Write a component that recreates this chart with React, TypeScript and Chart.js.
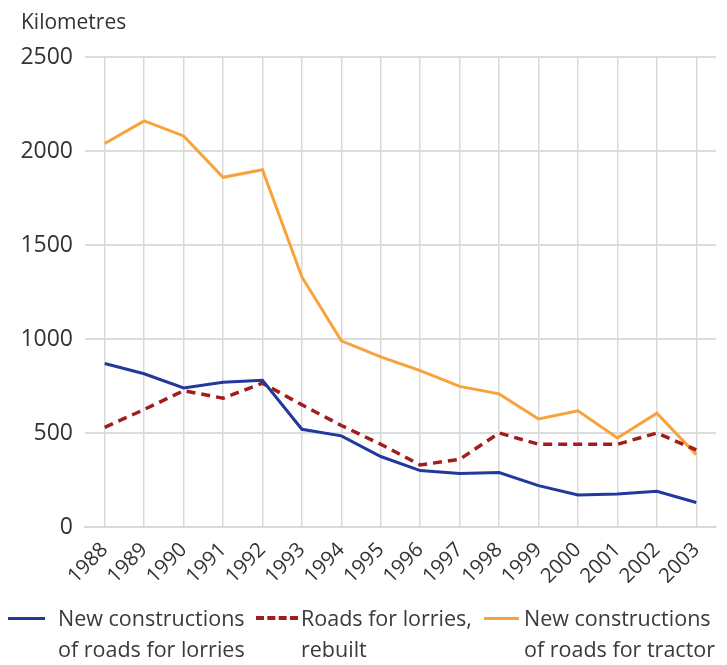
import React, { useEffect, useRef } from "react";
import { Chart, registerables } from "chart.js";

Chart.register(...registerables);

const years = ["1988","1989","1990","1991","1992","1993","1994","1995","1996","1997","1998","1999","2000","2001","2002","2003"];
const lorriesNew = [870, 815, 740, 770, 780, 520, 485, 375, 300, 285, 290, 220, 170, 175, 190, 130];
const lorriesRebuilt = [530, 625, 725, 685, 765, 650, 540, 440, 330, 360, 500, 440, 440, 440, 500, 410];
const tractorNew = [2040, 2160, 2080, 1860, 1900, 1330, 990, 905, 832, 748, 708, 575, 618, 473, 605, 385];
const yTicks = [0, 500, 1000, 1500, 2000, 2500];

const BLUE = "#22399b";
const RED = "#a11d1d";
const ORANGE = "#f8a23a";
const FONT = "'Open Sans', 'DejaVu Sans', sans-serif";

export default function App() {
  const ref = useRef<HTMLCanvasElement | null>(null);

  useEffect(() => {
    document.body.style.margin = "0";
    const canvas = ref.current;
    if (!canvas) return;
    const chart = new Chart(canvas, {
      type: "line",
      data: {
        labels: years,
        datasets: [
          { label: "New constructions of roads for lorries", data: lorriesNew, borderColor: BLUE, borderWidth: 3, pointRadius: 0, tension: 0 },
          { label: "Roads for lorries, rebuilt", data: lorriesRebuilt, borderColor: RED, borderWidth: 3.5, borderDash: [9, 6], pointRadius: 0, tension: 0 },
          { label: "New constructions of roads for tractor", data: tractorNew, borderColor: ORANGE, borderWidth: 3, pointRadius: 0, tension: 0 },
        ],
      },
      options: {
        animation: false,
        responsive: false,
        layout: { padding: { top: 57, right: 11, left: 0, bottom: 0 } },
        plugins: { legend: { display: false }, tooltip: { enabled: false } },
        scales: {
          x: {
            offset: true,
            afterFit: (scale: any) => {
              scale.height = 138;
            },
            grid: { offset: false, color: "#d9d9d9", lineWidth: 1.5, drawTicks: false },
            border: { display: true, color: "#d9d9d9", width: 2 },
            ticks: {
              minRotation: 45,
              maxRotation: 45,
              autoSkip: false,
              padding: 11,
              color: "#333",
              font: { family: FONT, size: 20.5 },
            },
          },
          y: {
            min: 0,
            max: 2500,
            afterBuildTicks: (scale: any) => {
              scale.ticks = yTicks.map((v) => ({ value: v }));
            },
            afterFit: (scale: any) => {
              scale.width = 85;
            },
            grid: { color: "#dcdcdc", lineWidth: 2, drawTicks: false },
            border: { display: false },
            ticks: {
              padding: 12,
              color: "#333",
              font: { family: FONT, size: 23 },
              callback: (v: any) => String(v),
            },
          },
        },
      },
    });
    return () => chart.destroy();
  }, []);

  const legendText: React.CSSProperties = {
    position: "absolute",
    fontFamily: FONT,
    fontSize: 21.5,
    lineHeight: "31px",
    color: "#3a3a3a",
    whiteSpace: "nowrap",
  };

  return (
    <div style={{ position: "relative", width: 727, height: 665, background: "#fff" }}>
      <canvas ref={ref} width={727} height={665} style={{ display: "block" }} />
      <div style={{ position: "absolute", left: 21, top: 7, fontFamily: FONT, fontSize: 21, color: "#333" }}>Kilometres</div>
      <div style={{ position: "absolute", left: 8, top: 617, width: 37, height: 3, background: BLUE }} />
      <div style={{ ...legendText, left: 58, top: 602 }}>New constructions<br />of roads for lorries</div>
      <div style={{ position: "absolute", left: 256, top: 616, width: 42, height: 0, borderTop: `4px dashed ${RED}` }} />
      <div style={{ ...legendText, left: 301, top: 602 }}>Roads for lorries,<br />rebuilt</div>
      <div style={{ position: "absolute", left: 484, top: 617, width: 35, height: 3, background: ORANGE }} />
      <div style={{ ...legendText, left: 524, top: 602 }}>New constructions<br />of roads for tractor</div>
    </div>
  );
}
